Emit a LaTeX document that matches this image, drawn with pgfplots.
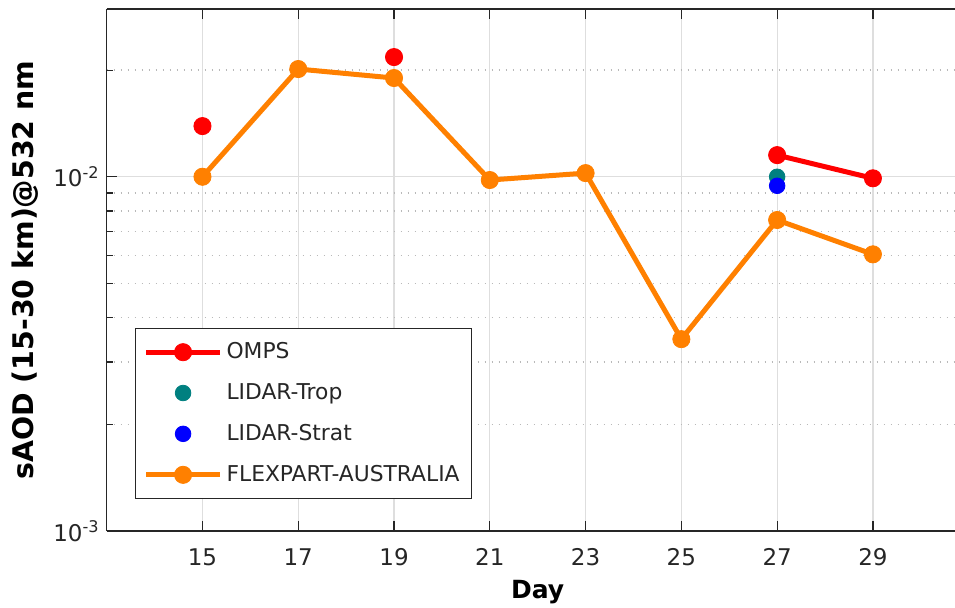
\documentclass[border=0pt]{standalone}
\usepackage{fontspec}
\setmainfont{DejaVu Sans}
\usepackage{pgfplots}
\pgfplotsset{compat=1.18}
\definecolor{omps}{rgb}{1,0,0}
\definecolor{trop}{rgb}{0,0.5,0.5}
\definecolor{strat}{rgb}{0,0,1}
\definecolor{flex}{rgb}{1,0.5,0}
\definecolor{gridc}{rgb}{0.87,0.87,0.87}
\definecolor{axc}{rgb}{0.15,0.15,0.15}
\begin{document}
\begin{tikzpicture}
\begin{axis}[
  scale only axis,
  width=431pt, height=260.85pt,
  xmin=13, xmax=31,
  ymode=log, ymin=0.001, ymax=0.0297,
  axis y line*=left,
  axis line style={axc, line width=0.8pt},
  xtick={15,17,19,21,23,25,27,29},
  ytick={0.001,0.01},
  yticklabels={{10\textsuperscript{-3}},{10\textsuperscript{-2}}},
  minor ytick={0.002,0.003,0.004,0.005,0.006,0.007,0.008,0.009,0.02,0.03},
  tick align=inside,
  major tick length=5pt, minor tick length=3pt,
  tick style={axc, line width=0.6pt},
  xmajorgrids, ymajorgrids, yminorgrids,
  major grid style={gridc, line width=0.6pt},
  minor grid style={gray!55, line width=0.7pt, dash pattern=on 0.7pt off 2.8pt},
  unbounded coords=jump,
  /pgf/number format/assume math mode=true,
  xticklabel style={font=\fontsize{11.5}{13}\selectfont, text=axc, anchor=base, yshift=-17pt},
  yticklabel style={font=\fontsize{11.5}{13}\selectfont, text=axc},
  every axis x label/.style={at={(axis description cs:0.5,0)}, anchor=base, yshift=-33.6pt},
  every axis y label/.style={at={(axis description cs:-0.0854,0.5)}, rotate=90, anchor=base},
  xlabel={\fontsize{12.5}{14}\selectfont\bfseries Day},
  ylabel={\fontsize{14.2}{16}\selectfont\bfseries sAOD (15-30 km)@532 nm},
  legend cell align=left,
  legend style={at={(0.0328,0.0613)}, anchor=south west, draw=axc, line width=0.6pt,
    font=\fontsize{10.9}{12.5}\selectfont, text=axc, row sep=6.9pt, inner xsep=4pt, inner ysep=5pt},
  legend image code/.code={\draw[mark repeat=2,mark phase=2,#1] plot coordinates {(0pt,0pt) (18.5pt,0pt) (37pt,0pt)};},
]
\addplot[omps, line width=2.5pt, mark=*, mark size=4.3pt, mark options={solid, line width=0.4pt}] coordinates {
  (15,0.01390) (17,nan) (19,0.02177) (21,nan) (23,nan) (25,nan) (27,0.01151) (29,0.00990)};
\addlegendentry{OMPS}
\addplot[trop, only marks, mark=*, mark size=3.9pt, mark options={line width=0.4pt}] coordinates {(27,0.0100)};
\addlegendentry{LIDAR-Trop}
\addplot[strat, only marks, mark=*, mark size=3.9pt, mark options={line width=0.4pt}] coordinates {(27,0.00943)};
\addlegendentry{LIDAR-Strat}
\addplot[flex, line width=2.5pt, mark=*, mark size=4.3pt, mark options={solid, line width=0.4pt}] coordinates {
  (15,0.01000) (17,0.02014) (19,0.01900) (21,0.00979) (23,0.01024) (25,0.00348) (27,0.00755) (29,0.00604)};
\addlegendentry{FLEXPART-AUSTRALIA}
\end{axis}
\pgfresetboundingbox
\useasboundingbox ([xshift=-53.35pt,yshift=-38.5pt]current axis.south west) rectangle ([xshift=424.15pt,yshift=265.5pt]current axis.south west);
\end{tikzpicture}
\end{document}
